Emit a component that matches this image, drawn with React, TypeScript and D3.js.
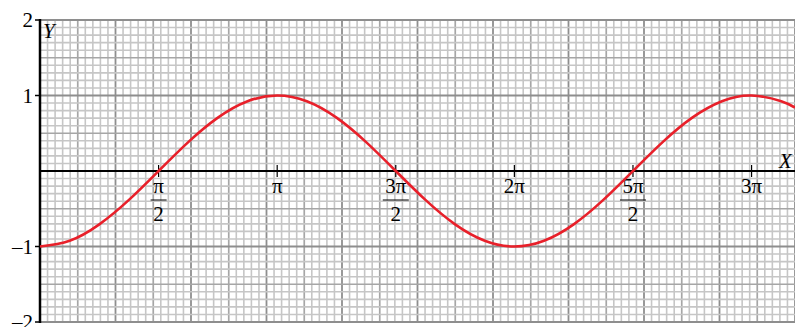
import React from 'react';
import * as d3 from 'd3';

const curveX = [0, 0.125, 0.25, 0.375, 0.5, 0.625, 0.75, 0.875, 1, 1.125, 1.25, 1.375, 1.5, 1.625, 1.75, 1.875, 2, 2.125, 2.25, 2.375, 2.5, 2.625, 2.75, 2.875, 3, 3.125, 3.183];
const curveY = [-1, -0.924, -0.707, -0.383, 0, 0.383, 0.707, 0.924, 1, 0.924, 0.707, 0.383, 0, -0.383, -0.707, -0.924, -1, -0.924, -0.707, -0.383, 0, 0.383, 0.707, 0.924, 1, 0.924, 0.84];

const xTicks = [0.5, 1, 1.5, 2, 2.5, 3];
const xTickNum = ['π', 'π', '3π', '2π', '5π', '3π'];
const xTickDen = ['2', '', '2', '', '2', ''];
const yTicks = [-2, -1, 1, 2];

const width = 795;
const height = 327;
const left = 40;
const top = 20;
const bottom = 322;

export default function App() {
  const x = d3.scaleLinear().domain([0, 10 / Math.PI]).range([left, width]);
  const y = d3.scaleLinear().domain([-2, 2]).range([bottom, top]);
  // grid cells: 0.1 unit each
  const gx = d3.scaleLinear().domain([0, 100]).range([left, width]);
  const gy = d3.scaleLinear().domain([0, 40]).range([bottom, top]);

  const line = d3.line<number>()
    .x((_, i) => x(curveX[i]))
    .y(d => y(d))
    .curve(d3.curveNatural);

  const gridStyle = (i: number) =>
    i % 10 === 0 ? { stroke: '#8e8e8e', w: 1.8 } : i % 5 === 0 ? { stroke: '#a6a6a6', w: 1.7 } : { stroke: '#c6c6c6', w: 1.6 };

  const font = '"Liberation Serif", "DejaVu Serif", serif';

  return (
    <svg width={width} height={height} style={{ position: 'absolute', left: 0, top: 0 }}>
      <rect width={width} height={height} fill="#fff" />
      <g>
        {d3.range(1, 101).map(i => {
          const s = gridStyle(i);
          return <line key={'v' + i} x1={gx(i)} x2={gx(i)} y1={top} y2={bottom} stroke={s.stroke} strokeWidth={s.w} />;
        })}
        {d3.range(0, 41).map(i => {
          const s = gridStyle(i);
          return <line key={'h' + i} x1={left} x2={width} y1={gy(i)} y2={gy(i)} stroke={s.stroke} strokeWidth={s.w} />;
        })}
      </g>
      {/* axes */}
      <line x1={left} x2={width} y1={y(0)} y2={y(0)} stroke="#000" strokeWidth={2} />
      <line x1={left} x2={left} y1={top - 1} y2={bottom + 1} stroke="#000" strokeWidth={2.5} />
      {yTicks.map(t => (
        <g key={t}>
          <line x1={left - 5} x2={left} y1={y(t)} y2={y(t)} stroke="#000" strokeWidth={1.5} />
          <text x={left - 7} y={y(t) + 7} textAnchor="end" fontFamily={font} fontSize={21}>
            {t < 0 ? '\u2013' + Math.abs(t) : t}
          </text>
        </g>
      ))}
      {xTicks.map((t, i) => (
        <g key={t}>
          <line x1={x(t)} x2={x(t)} y1={y(0) - 6} y2={y(0) + 6} stroke="#000" strokeWidth={1.2} />
          <text x={x(t)} y={193} textAnchor="middle" fontFamily={font} fontSize={21}>{xTickNum[i]}</text>
          {xTickDen[i] && (
            <>
              <line x1={x(t) - (xTickNum[i].length > 1 ? 13 : 8)} x2={x(t) + (xTickNum[i].length > 1 ? 13 : 8)} y1={200} y2={200} stroke="#000" strokeWidth={1} />
              <text x={x(t)} y={221} textAnchor="middle" fontFamily={font} fontSize={21}>{xTickDen[i]}</text>
            </>
          )}
        </g>
      ))}
      <text x={43} y={38} fontFamily={font} fontStyle="italic" fontSize={21}>Y</text>
      <text x={779} y={168} fontFamily={font} fontStyle="italic" fontSize={21}>X</text>
      <path d={line(curveY) ?? ''} fill="none" stroke="#e8202a" strokeWidth={2.6} />
    </svg>
  );
}
